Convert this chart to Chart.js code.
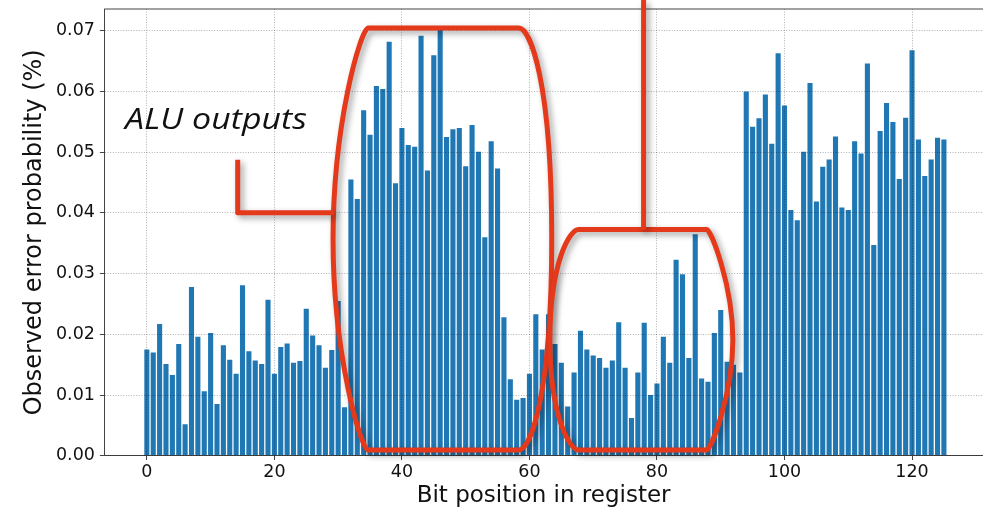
<!DOCTYPE html>
<html>
<head>
<meta charset="utf-8">
<script src="https://cdn.jsdelivr.net/npm/chart.js@4.4.1/dist/chart.umd.min.js"></script>
<style>
  html, body { margin: 0; padding: 0; background: #fff; overflow: hidden; }
  canvas { display: block; }
</style>
</head>
<body>
<canvas id="chart" width="983" height="508" style="width:983px;height:508px"></canvas>
<script>
// Bit index within the register (0 .. 125)
const bitPositions = Array.from({ length: 126 }, (_, i) => i);

// Observed error probability per bit, in percent
const errorProbability = [
  0.0175, 0.0170, 0.0217, 0.0151, 0.0133, 0.0184, 0.0052, 0.0278, 0.0196, 0.0106,
  0.0202, 0.0085, 0.0182, 0.0158, 0.0135, 0.0281, 0.0172, 0.0157, 0.0151, 0.0257,
  0.0135, 0.0179, 0.0185, 0.0153, 0.0156, 0.0242, 0.0198, 0.0182, 0.0145, 0.0174,
  0.0255, 0.0080, 0.0455, 0.0423, 0.0569, 0.0529, 0.0609, 0.0604, 0.0682, 0.0449,
  0.0540, 0.0512, 0.0509, 0.0692, 0.0470, 0.0660, 0.0702, 0.0525, 0.0538, 0.0540,
  0.0477, 0.0545, 0.0501, 0.0360, 0.0518, 0.0473, 0.0228, 0.0126, 0.0092, 0.0095,
  0.0135, 0.0233, 0.0175, 0.0233, 0.0184, 0.0153, 0.0081, 0.0137, 0.0206, 0.0175,
  0.0165, 0.0161, 0.0145, 0.0157, 0.0220, 0.0145, 0.0062, 0.0137, 0.0219, 0.0100,
  0.0119, 0.0196, 0.0153, 0.0323, 0.0299, 0.0161, 0.0365, 0.0127, 0.0122, 0.0202,
  0.0240, 0.0155, 0.0150, 0.0137, 0.0600, 0.0542, 0.0556, 0.0595, 0.0514, 0.0663,
  0.0577, 0.0405, 0.0388, 0.0501, 0.0614, 0.0419, 0.0476, 0.0488, 0.0526, 0.0409,
  0.0405, 0.0518, 0.0498, 0.0646, 0.0347, 0.0535, 0.0581, 0.0550, 0.0456, 0.0557,
  0.0668, 0.0521, 0.0461, 0.0488, 0.0524, 0.0521
];

// Axis ticks
const xTickValues = [0, 20, 40, 60, 80, 100, 120];
const yTickValues = [0.00, 0.01, 0.02, 0.03, 0.04, 0.05, 0.06, 0.07];

// Callout geometry, expressed in data units (bit position / probability)
const groupOutlines = [
  { left: 29.2, right: 63.5, top: 0.07046, bottom: 0.00094, insetL: 5.5, insetR: 5.2, aL: 0.2, bL: 0.45, aR: 0.35, bR: 0.25 },
  { left: 63.2, right: 91.9, top: 0.03729, bottom: 0.00094, insetL: 4.5, insetR: 4.1, aL: 0.3, bL: 0.3, aR: 0.15, bR: 0.5 }
];
const aluLeader = [ [14.25, 0.04875], [14.25, 0.04003], [29.3, 0.04003] ];
const topLeader = { x: 77.9, bottom: 0.03729 };
const aluLabel = { text: 'ALU outputs', x: -3.42, y: 0.0539 };

const BAR_COLOR = '#1f77b4';
const CALLOUT_COLOR = '#e5391c';
const AXIS_COLOR = '#444';
const GRID_COLOR = 'rgba(0,0,0,0.38)';
const TEXT_COLOR = '#111';

function outlinePath(ctx, x, y, g) {
  const L = x.getPixelForValue(g.left), R = x.getPixelForValue(g.right);
  const T = y.getPixelForValue(g.top), B = y.getPixelForValue(g.bottom);
  const M = (T + B) / 2;
  const iL = x.getPixelForValue(g.left + g.insetL) - L;
  const iR = R - x.getPixelForValue(g.right - g.insetR);
  ctx.beginPath();
  ctx.moveTo(L + iL, T);
  ctx.lineTo(R - iR, T);
  ctx.bezierCurveTo(R - iR + g.aR * iR, T, R, T + g.bR * (M - T), R, M);
  ctx.bezierCurveTo(R, B - g.bR * (B - M), R - iR + g.aR * iR, B, R - iR, B);
  ctx.lineTo(L + iL, B);
  ctx.bezierCurveTo(L + iL - g.aL * iL, B, L, B - g.bL * (B - M), L, M);
  ctx.bezierCurveTo(L, T + g.bL * (M - T), L + iL - g.aL * iL, T, L + iL, T);
  ctx.closePath();
}

const calloutPlugin = {
  id: 'callouts',
  afterDraw(chart) {
    const { ctx, chartArea: ca, scales: { x, y } } = chart;

    // top edge of the plot frame (the right edge lies just past the canvas)
    ctx.save();
    ctx.strokeStyle = AXIS_COLOR;
    ctx.lineWidth = 1;
    ctx.beginPath();
    ctx.moveTo(ca.left, ca.top);
    ctx.lineTo(ca.right + 5, ca.top);
    ctx.stroke();
    ctx.restore();

    // red callouts with a soft drop shadow
    ctx.save();
    ctx.strokeStyle = CALLOUT_COLOR;
    ctx.lineWidth = 5;
    ctx.lineJoin = 'round';
    ctx.lineCap = 'butt';
    ctx.shadowColor = 'rgba(0,0,0,0.38)';
    ctx.shadowBlur = 6;
    ctx.shadowOffsetX = 3;
    ctx.shadowOffsetY = 3;

    groupOutlines.forEach(g => { outlinePath(ctx, x, y, g); ctx.stroke(); });

    ctx.beginPath();
    aluLeader.forEach((p, i) => {
      const px = x.getPixelForValue(p[0]), py = y.getPixelForValue(p[1]);
      if (i === 0) ctx.moveTo(px, py); else ctx.lineTo(px, py);
    });
    ctx.stroke();

    const tx = x.getPixelForValue(topLeader.x);
    ctx.beginPath();
    ctx.moveTo(tx, 0);
    ctx.lineTo(tx, y.getPixelForValue(topLeader.bottom));
    ctx.stroke();
    ctx.restore();

    // callout label
    ctx.save();
    ctx.fillStyle = TEXT_COLOR;
    ctx.font = 'italic 30px "Open Sans", "Noto Sans", sans-serif';
    ctx.textBaseline = 'alphabetic';
    ctx.textAlign = 'left';
    ctx.translate(x.getPixelForValue(aluLabel.x), y.getPixelForValue(aluLabel.y));
    ctx.scale(1.13, 1);
    ctx.fillText(aluLabel.text, 0, 0);
    ctx.restore();
  }
};

const tickFont = { family: '"DejaVu Sans", sans-serif', size: 17.5 };

new Chart(document.getElementById('chart'), {
  type: 'bar',
  data: {
    datasets: [{
      data: bitPositions.map((b, i) => ({ x: b, y: errorProbability[i] })),
      backgroundColor: BAR_COLOR,
      borderWidth: 0,
      barPercentage: 0.8,
      categoryPercentage: 1.0
    }]
  },
  options: {
    responsive: false,
    animation: false,
    devicePixelRatio: 1,
    layout: { padding: { left: 0, right: 0, top: 9, bottom: 0 } },
    plugins: { legend: { display: false }, tooltip: { enabled: false } },
    scales: {
      x: {
        type: 'linear',
        min: -6.69,
        max: 131.13,
        offset: false,
        afterBuildTicks: s => { s.ticks = xTickValues.map(v => ({ value: v })); },
        afterFit: s => { s.height = 508 - 455.7; s.paddingLeft = 0; s.paddingRight = 0; },
        ticks: {
          color: TEXT_COLOR, font: tickFont, padding: 2, maxRotation: 0,
          callback: v => String(v)
        },
        grid: {
          offset: false, color: GRID_COLOR, lineWidth: 0.8, z: 1,
          drawTicks: true, tickLength: 4.3, tickColor: AXIS_COLOR, tickWidth: 1, tickBorderDash: []
        },
        border: { display: true, color: AXIS_COLOR, width: 1, dash: [1, 1.6], z: 1 },
        title: {
          display: true, text: 'Bit position in register', color: TEXT_COLOR,
          font: { family: '"DejaVu Sans", sans-serif', size: 23, lineHeight: 1.0 },
          padding: { top: 0, bottom: 0.2 }
        }
      },
      y: {
        type: 'linear',
        min: 0,
        max: 0.0736,
        afterBuildTicks: s => { s.ticks = yTickValues.map(v => ({ value: v })); },
        afterFit: s => { s.width = 104.2; s.paddingTop = 0; s.paddingBottom = 0; },
        ticks: {
          color: TEXT_COLOR, font: tickFont, padding: 5,
          callback: v => Number(v).toFixed(2)
        },
        grid: {
          color: GRID_COLOR, lineWidth: 0.8, z: 1,
          drawTicks: true, tickLength: 4.3, tickColor: AXIS_COLOR, tickWidth: 1, tickBorderDash: []
        },
        border: { display: true, color: AXIS_COLOR, width: 1, dash: [1, 1.6], z: 1 },
        title: {
          display: true, text: 'Observed error probability (%)', color: TEXT_COLOR,
          font: { family: '"DejaVu Sans", sans-serif', size: 24, lineHeight: 1.2 },
          padding: { top: 20, bottom: 0 }
        }
      }
    }
  },
  plugins: [calloutPlugin]
});
</script>
</body>
</html>
